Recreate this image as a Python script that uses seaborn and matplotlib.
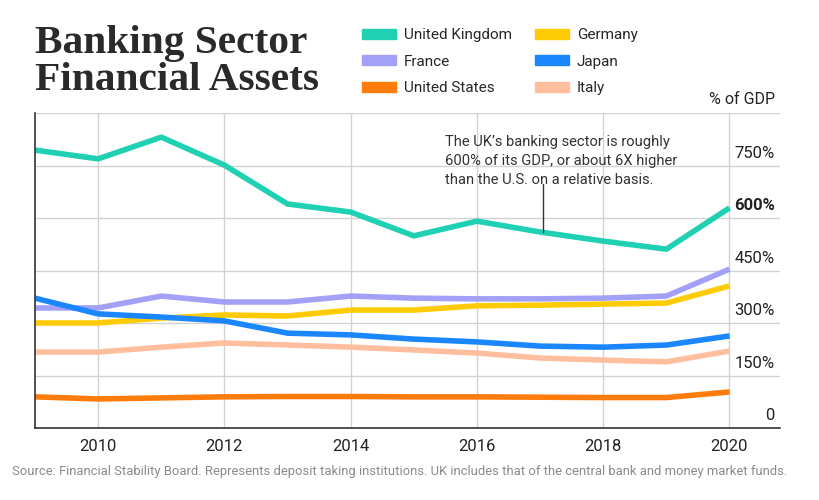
import pandas as pd
import matplotlib.pyplot as plt
import matplotlib.patches as mpatches
import matplotlib.transforms as mtransforms
import seaborn as sns

years = list(range(2009, 2021))
countries = ["United Kingdom", "France", "United States", "Germany", "Japan", "Italy"]
uk = [794, 769, 831, 751, 640, 617, 549, 591, 560, 534, 511, 629]
france = [343, 343, 377, 360, 360, 377, 371, 369, 369, 371, 377, 454]
usa = [89, 83, 86, 89, 90, 90, 89, 89, 88, 87, 87, 103]
germany = [300, 300, 314, 323, 320, 337, 337, 349, 351, 354, 357, 406]
japan = [371, 326, 317, 306, 271, 266, 254, 246, 234, 231, 237, 263]
italy = [217, 217, 231, 243, 237, 231, 223, 214, 200, 194, 189, 220]
y_ticks = [0, 150, 300, 450, 600, 750]
x_ticks = [2010, 2012, 2014, 2016, 2018, 2020]

colors = ["#1fd1b2", "#a3a0f7", "#ff7b0a", "#ffcb05", "#1a86ff", "#ffbf9e"]

series = dict(zip(countries, [uk, france, usa, germany, japan, italy]))
df = pd.DataFrame(
    [(c, yr, v) for c, vals in series.items() for yr, v in zip(years, vals)],
    columns=["country", "year", "pct"],
)

sns.set_theme(style="white")
plt.rcParams["font.family"] = ["Roboto", "DejaVu Sans"]

fig = plt.figure(figsize=(8.2, 5), dpi=100)
ax = fig.add_axes([35 / 820, 1 - 428 / 500, 745 / 820, 315 / 500])

sns.lineplot(
    data=df, x="year", y="pct", hue="country", hue_order=countries,
    palette=colors, linewidth=4, legend=False, ax=ax,
    solid_capstyle="butt",
)

ax.set_xlim(2009, 2020.8)
ax.set_ylim(0, 900)
ax.set_xticks(x_ticks)
ax.set_xticklabels([str(t) for t in x_ticks], fontsize=12, color="#222222")
ax.set_yticks(y_ticks + [900])
ax.set_yticklabels([])
ax.tick_params(axis="y", length=0)
ax.tick_params(axis="x", length=0, pad=8)
ax.set_xlabel("")
ax.set_ylabel("")
ax.grid(True, color="#d2d2d2", linewidth=1)
ax.set_axisbelow(True)
for side in ["top", "right"]:
    ax.spines[side].set_visible(False)
for side in ["left", "bottom"]:
    ax.spines[side].set_color("#333333")
    ax.spines[side].set_linewidth(1.2)

# y labels inside the plot, above their gridlines
trans = mtransforms.blended_transform_factory(ax.transAxes, ax.transData)
for t in y_ticks:
    label = "0" if t == 0 else f"{t}%"
    ax.text(0.993, t + 14, label, transform=trans, ha="right", va="bottom",
            fontsize=12, color="#222222",
            fontweight="bold" if t == 600 else "normal")
fig.text(775 / 820, 1 - 100 / 500, "% of GDP", ha="right", va="center",
         fontsize=11.5, color="#222222")

# annotation
ax.text(2015.5, 836, "The UK\u2019s banking sector is roughly\n"
        "600% of its GDP, or about 6X higher\n"
        "than the U.S. on a relative basis.",
        ha="left", va="top", fontsize=10.6, color="#333333", linespacing=1.45)
ax.plot([2017.05, 2017.05], [560, 698], color="#333333", linewidth=1)

# title
fig.text(35 / 820, 1 - 62 / 500, "Banking Sector\nFinancial Assets",
         family="Liberation Serif", fontweight="bold", fontsize=29.8,
         color="#2a2a2a", ha="left", va="center", linespacing=1.02)

# legend
handles = [mpatches.Patch(color=c, label=n) for c, n in zip(colors, countries)]
fig.legend(handles=handles, ncol=2, loc="upper left",
           bbox_to_anchor=(356 / 820, 1 - 22 / 500), frameon=False,
           fontsize=11, handlelength=2.2, handleheight=0.65,
           columnspacing=1.5, labelspacing=0.82, handletextpad=0.55,
           borderaxespad=0.0)

fig.text(12 / 820, 1 - 471 / 500,
         "Source: Financial Stability Board. Represents deposit taking institutions. "
         "UK includes that of the central bank and money market funds.",
         ha="left", va="center", fontsize=9.4, color="#8a8a8a")

fig.savefig("out.png", dpi=100)
